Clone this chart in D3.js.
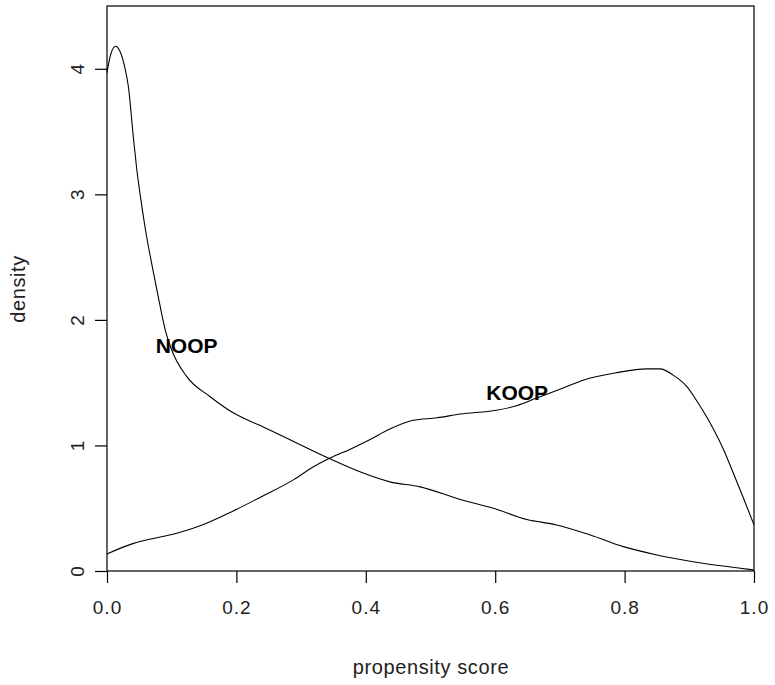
<!DOCTYPE html>
<html>
<head>
<meta charset="utf-8">
<script src="https://cdn.jsdelivr.net/npm/d3@7"></script>
<style>
  html, body { margin: 0; padding: 0; background: #fff; }
  svg { display: block; }
  text { font-family: "Liberation Sans", Arial, sans-serif; }
</style>
</head>
<body>
<svg id="chart" width="775" height="685"></svg>
<script>
// Data
const noopX = [0, 0.006, 0.0134, 0.02, 0.028, 0.033, 0.041, 0.046, 0.054, 0.061, 0.069, 0.079, 0.090, 0.100, 0.123, 0.159, 0.195, 0.236, 0.283, 0.342, 0.396, 0.437, 0.484, 0.546, 0.597, 0.649, 0.695, 0.747, 0.798, 0.850, 0.906, 0.973, 1.0];
const noopY = [3.97, 4.12, 4.18, 4.14, 4.0, 3.86, 3.44, 3.2, 2.9, 2.67, 2.45, 2.19, 1.92, 1.76, 1.55, 1.39, 1.26, 1.16, 1.045, 0.90, 0.78, 0.71, 0.67, 0.57, 0.50, 0.41, 0.367, 0.287, 0.194, 0.128, 0.074, 0.026, 0.008];
const koopX = [0, 0.041, 0.066, 0.108, 0.144, 0.195, 0.238, 0.288, 0.319, 0.345, 0.376, 0.406, 0.437, 0.473, 0.51, 0.546, 0.602, 0.633, 0.664, 0.705, 0.736, 0.788, 0.834, 0.855, 0.875, 0.896, 0.911, 0.932, 0.953, 0.968, 0.983, 1.0];
const koopY = [0.136, 0.22, 0.253, 0.30, 0.36, 0.478, 0.59, 0.726, 0.83, 0.90, 0.97, 1.045, 1.13, 1.20, 1.22, 1.25, 1.28, 1.316, 1.377, 1.457, 1.52, 1.58, 1.61, 1.61, 1.56, 1.47, 1.36, 1.18, 0.965, 0.78, 0.59, 0.367];
const xTicks = [0, 0.2, 0.4, 0.6, 0.8, 1.0];
const yTicks = [0, 1, 2, 3, 4];
const seriesLabels = [
  { name: "NOOP", x: 0.123, y: 1.74 },
  { name: "KOOP", x: 0.634, y: 1.36 }
];

const svg = d3.select("#chart");
const L = 107, R = 754, T = 6, B = 571;
const x = d3.scaleLinear().domain([0, 1]).range([L, R]);
const y = d3.scaleLinear().domain([0, 4.5]).range([B, T]);

// box
svg.append("rect").attr("x", L).attr("y", T).attr("width", R - L).attr("height", B - T)
  .attr("fill", "none").attr("stroke", "#000").attr("stroke-width", 1.2);

// x axis
const xAxis = d3.axisBottom(x).tickValues(xTicks).tickSize(12).tickPadding(18)
  .tickFormat(d3.format(".1f"));
const gx = svg.append("g").attr("transform", `translate(0,${B})`).call(xAxis);
gx.select(".domain").remove();
gx.selectAll(".tick line").attr("stroke", "#000").attr("stroke-width", 1.2);
gx.selectAll(".tick text").attr("font-size", 19).attr("fill", "#222")
  .attr("font-family", "Liberation Sans, Arial, sans-serif").attr("letter-spacing", 1);

// y axis
const yAxis = d3.axisLeft(y).tickValues(yTicks).tickSize(12).tickFormat(d3.format("d"));
const gy = svg.append("g").attr("transform", `translate(${L},0)`).call(yAxis);
gy.select(".domain").remove();
gy.selectAll(".tick line").attr("stroke", "#000").attr("stroke-width", 1.2);
gy.selectAll(".tick text")
  .attr("font-size", 19).attr("fill", "#222")
  .attr("font-family", "Liberation Sans, Arial, sans-serif")
  .attr("x", null).attr("dy", null)
  .attr("text-anchor", "middle")
  .attr("transform", "translate(-29,0) rotate(-90) translate(0,6)");

// axis titles
svg.append("text").attr("x", 431).attr("y", 674).attr("text-anchor", "middle")
  .attr("font-size", 20).attr("letter-spacing", 0.6).attr("fill", "#222").text("propensity score");
svg.append("text").attr("transform", `translate(25,289) rotate(-90)`)
  .attr("text-anchor", "middle").attr("font-size", 20).attr("letter-spacing", 0.6)
  .attr("fill", "#222").text("density");

// curves
const line = d3.line().x(d => x(d[0])).y(d => y(d[1])).curve(d3.curveMonotoneX);
const noop = noopX.map((v, i) => [v, noopY[i]]);
const koop = koopX.map((v, i) => [v, koopY[i]]);
[noop, koop].forEach(s => {
  svg.append("path").datum(s).attr("d", line).attr("fill", "none")
    .attr("stroke", "#000").attr("stroke-width", 1.1);
});

// labels
seriesLabels.forEach(l => {
  svg.append("text").attr("x", x(l.x)).attr("y", y(l.y)).attr("text-anchor", "middle")
    .attr("font-size", 21).attr("font-weight", "bold").attr("fill", "#000").text(l.name);
});
</script>
</body>
</html>
